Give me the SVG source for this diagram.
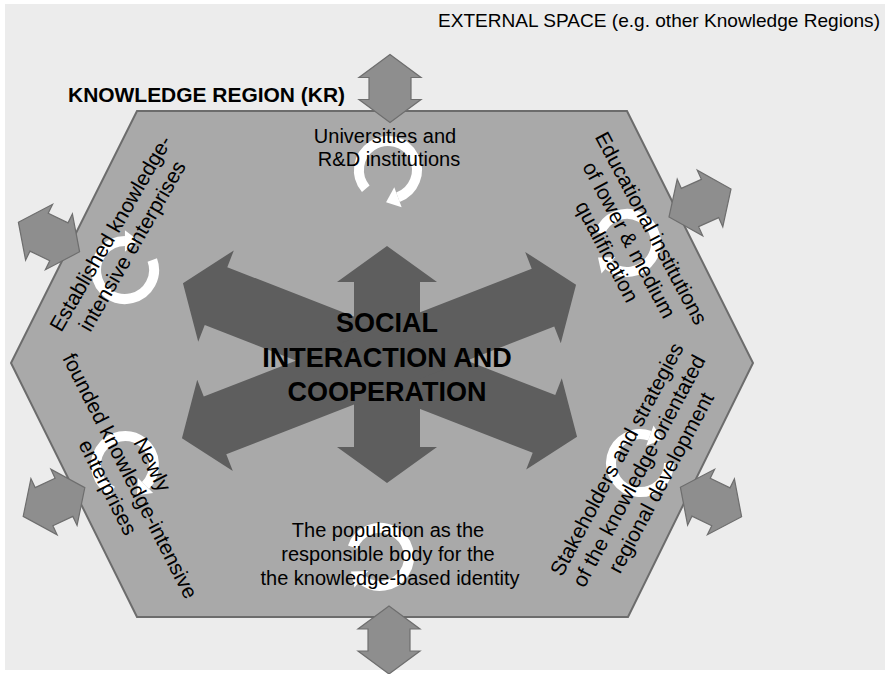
<svg xmlns="http://www.w3.org/2000/svg" xmlns:xlink="http://www.w3.org/1999/xlink" width="885" height="674" viewBox="0 0 885 674">
  <style>
    .txt { font-family: "Liberation Sans", Arial, sans-serif; fill: #000; }
    .lbl { font-size: 20px; text-anchor: middle; }
    .rot { font-size: 21px; text-anchor: middle; }
    .center { font-size: 27px; font-weight: bold; text-anchor: middle; }
    .hex { fill: #a9a9a9; stroke: #6c6c6c; stroke-width: 2; }
    .big { fill: #5e5e5e; }
    .small { fill: #8e8e8e; stroke: #6e6e6e; stroke-width: 1.2; }
    .ring { fill: none; stroke: #ffffff; stroke-width: 10; }
    .ringhead { fill: #ffffff; }
  </style>
  <defs>
    <!-- wide double-headed arrow of the central star, centred on the origin -->
    <path id="bigArrow" d="M -211.5 0 L -176 -49 L -176 -31 L 176 -31 L 176 -49 L 211.5 0 L 176 49 L 176 31 L -176 31 L -176 49 Z"/>
    <path id="vArrow" d="M -118.5 0 L -82.5 -50 L -82.5 -33 L 82.5 -33 L 82.5 -50 L 118.5 0 L 82.5 50 L 82.5 33 L -82.5 33 L -82.5 50 Z"/>
    <!-- small exchange arrow across the region border -->
    <path id="xArrow" d="M -34 0 L -11 -31 L -11 -21 L 11 -21 L 11 -31 L 34 0 L 11 31 L 11 21 L -11 21 L -11 31 Z"/>
    <!-- circular "cycle" arrow -->
    <g id="cycle">
      <path class="ring" d="M -27.3 -9.9 A 29 29 0 1 1 -18.6 22.2"/>
      <polygon class="ringhead" points="-25.5,30.5 -11.7,14 -29,14.5"/>
    </g>
  </defs>

  <!-- backdrop: external space -->
  <rect x="0" y="0" width="885" height="674" fill="#ffffff"/>
  <rect x="5" y="4" width="880" height="666" fill="#ececec"/>

  <text class="txt" x="438" y="27" font-size="19" textLength="442" lengthAdjust="spacingAndGlyphs">EXTERNAL SPACE (e.g. other Knowledge Regions)</text>

  <!-- knowledge region -->
  <g id="region">
    <polygon class="hex" points="137,111 627,111 753,363 628,617 137,617 11,363"/>
    <text class="txt" x="68" y="102" font-size="20" font-weight="bold" textLength="277" lengthAdjust="spacingAndGlyphs">KNOWLEDGE REGION (KR)</text>
  </g>

  <!-- exchange with the external space -->
  <g id="connectors">
    <use href="#xArrow" class="small" transform="translate(390,88.5) rotate(90)"/>
    <use href="#xArrow" class="small" transform="translate(389,640) rotate(90)"/>
    <use href="#xArrow" class="small" transform="translate(49,237) rotate(25.8)"/>
    <use href="#xArrow" class="small" transform="translate(54,502) rotate(-25)"/>
    <use href="#xArrow" class="small" transform="translate(700,203) rotate(-24.3)"/>
    <use href="#xArrow" class="small" transform="translate(711,502) rotate(25.8)"/>
  </g>

  <!-- central node -->
  <g id="social-interaction">
    <use href="#bigArrow" class="big" transform="translate(380,360) rotate(21.3)"/>
    <use href="#bigArrow" class="big" transform="translate(379,361.5) rotate(-21.3)"/>
    <use href="#vArrow" class="big" transform="translate(387,364.5) rotate(90)"/>
    <text class="txt center" x="387" y="332">SOCIAL</text>
    <text class="txt center" x="387" y="367">INTERACTION AND</text>
    <text class="txt center" x="387" y="401">COOPERATION</text>
  </g>

  <g id="universities">
    <use href="#cycle" transform="translate(388,170) rotate(-60)"/>
    <text class="txt lbl" x="385" y="143">Universities and</text>
    <text class="txt lbl" x="389" y="166">R&amp;D institutions</text>
  </g>

  <g id="educational">
    <use href="#cycle" transform="translate(627,243)"/>
    <g transform="translate(629,240) rotate(62)">
      <text class="txt rot" x="0" y="-18">Educational institutions</text>
      <text class="txt rot" x="0" y="7">of lower &amp; medium</text>
      <text class="txt rot" x="0" y="32">qualification</text>
    </g>
  </g>

  <g id="stakeholders">
    <use href="#cycle" transform="translate(640,463) rotate(160)"/>
    <g transform="translate(639,471) rotate(-62)">
      <text class="txt rot" x="0" y="-18">Stakeholders and strategies</text>
      <text class="txt rot" x="0" y="7">of the knowledge-orientated</text>
      <text class="txt rot" x="0" y="32">regional development</text>
    </g>
  </g>

  <g id="population">
    <use href="#cycle" transform="translate(380,557)"/>
    <text class="txt lbl" x="388" y="537">The population as the</text>
    <text class="txt lbl" x="388" y="561">responsible body for the</text>
    <text class="txt lbl" x="390" y="585">the knowledge-based identity</text>
  </g>

  <g id="newly-founded">
    <use href="#cycle" transform="translate(125,465) rotate(-85)"/>
    <g transform="translate(130,476) rotate(63)">
      <text class="txt rot" x="0" y="-18">Newly</text>
      <text class="txt rot" x="0" y="7">founded knowledge-intensive</text>
      <text class="txt rot" x="0" y="32">enterprises</text>
    </g>
  </g>

  <g id="established">
    <use href="#cycle" transform="translate(125,270) rotate(140)"/>
    <g transform="translate(122,240) rotate(-60)">
      <text class="txt rot" x="0" y="-6">Established knowledge-</text>
      <text class="txt rot" x="0" y="19">intensive enterprises</text>
    </g>
  </g>
</svg>
